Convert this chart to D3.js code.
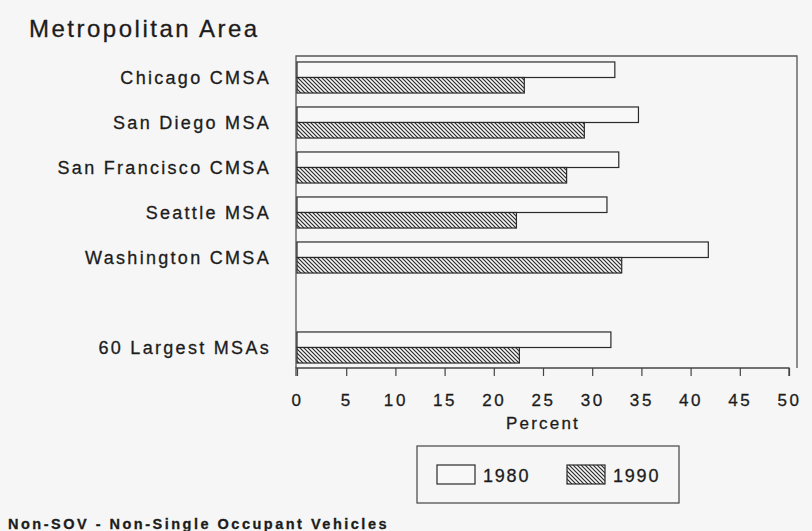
<!DOCTYPE html>
<html>
<head>
<meta charset="utf-8">
<script src="https://cdn.jsdelivr.net/npm/d3@7"></script>
<style>
  html, body { margin: 0; padding: 0; background: #f6f6f6; }
  svg { display: block; }
  text { font-family: "Liberation Sans", Arial, Helvetica, sans-serif; fill: #1c1c1c; stroke: #1c1c1c; stroke-width: 0.3px; }
</style>
</head>
<body>
<svg id="chart" width="812" height="531"></svg>
<script>
// ---- data ----
const categories = ["Chicago CMSA", "San Diego MSA", "San Francisco CMSA", "Seattle MSA", "Washington CMSA", "60 Largest MSAs"];
const values1980 = [32.3, 34.7, 32.7, 31.5, 41.8, 31.9];
const values1990 = [23.1, 29.2, 27.4, 22.3, 33.0, 22.6];
const seriesNames = ["1980", "1990"];
const xTicks = [0, 5, 10, 15, 20, 25, 30, 35, 40, 45, 50];
const titleText = "Metropolitan Area";
const xTitle = "Percent";
const footnote = "Non-SOV - Non-Single Occupant Vehicles";

// ---- layout ----
const svg = d3.select("#chart");
const W = 812, H = 531;
const plot = { left: 297, right: 789, top: 56, bottom: 368, frameRight: 797 };
const ink = "#2a2a2a";

svg.append("rect").attr("width", W).attr("height", H).attr("fill", "#f6f6f6");

// hatch pattern
const defs = svg.append("defs");
const pat = defs.append("pattern")
  .attr("id", "hatch").attr("patternUnits", "userSpaceOnUse")
  .attr("width", 4).attr("height", 4);
pat.append("rect").attr("width", 4).attr("height", 4).attr("fill", "#f6f6f6");
pat.append("path").attr("d", "M-1,-1 L5,5 M-1,3 L1,5 M3,-1 L5,1")
  .attr("stroke", "#2a2a2a").attr("stroke-width", 1.2);

// slots: insert a blank gap before the last category
const slots = categories.slice(0, 5).concat(["__gap__"], categories.slice(5));
const y = d3.scaleBand().domain(slots).range([55, 370]).paddingInner(0.31).paddingOuter(0.155);
const x = d3.scaleLinear().domain([0, 50]).range([plot.left, plot.right]);

// frame
svg.append("path")
  .attr("d", `M${plot.left - 1},${plot.bottom} L${plot.left - 1},${plot.top} L${plot.frameRight},${plot.top} L${plot.frameRight},${plot.bottom}`)
  .attr("fill", "none").attr("stroke", "#555").attr("stroke-width", 1.3);

// bars
const rows = categories.map((c, i) => ({ cat: c, v: [values1980[i], values1990[i]] }));
const sub = d3.scaleBand().domain(seriesNames).range([0, y.bandwidth()]);
const g = svg.append("g");
rows.forEach(r => {
  seriesNames.forEach((s, j) => {
    g.append("rect")
      .attr("x", x(0))
      .attr("y", y(r.cat) + sub(s))
      .attr("width", x(r.v[j]) - x(0))
      .attr("height", sub.bandwidth())
      .attr("fill", j === 0 ? "#f8f8f8" : "url(#hatch)")
      .attr("stroke", ink).attr("stroke-width", 1.2);
  });
});

// y labels
svg.append("g").selectAll("text").data(categories).join("text")
  .attr("x", 271)
  .attr("y", d => y(d) + y.bandwidth() / 2)
  .attr("dy", "0.36em")
  .attr("text-anchor", "end")
  .style("font-size", "18px").style("letter-spacing", "2.3px")
  .text(d => d);

// x axis
const xAxis = d3.axisBottom(x).tickValues(xTicks).tickSize(8).tickPadding(18).tickFormat(d3.format("d"));
const ax = svg.append("g").attr("transform", `translate(0,${plot.bottom})`).call(xAxis);
ax.select(".domain").attr("stroke", "#444").attr("stroke-width", 1.3).attr("d", `M${x(0) - 1},8V0H${x(50)}V8`);
ax.selectAll(".tick line").attr("stroke", "#444").attr("stroke-width", 1.2);
ax.selectAll(".tick text")
  .style("font-size", "17px").style("letter-spacing", "2.6px")
  .attr("fill", "#1c1c1c").attr("font-family", null);

svg.append("text").attr("x", 543).attr("y", 429).attr("text-anchor", "middle")
  .style("font-size", "17px").style("letter-spacing", "2.2px").text(xTitle);

// title
svg.append("text").attr("x", 29).attr("y", 37)
  .style("font-size", "24px").style("letter-spacing", "2.5px").text(titleText);

// legend
const lg = svg.append("g");
lg.append("rect").attr("x", 417).attr("y", 446).attr("width", 262).attr("height", 57)
  .attr("fill", "none").attr("stroke", "#444").attr("stroke-width", 1.2);
const legX = [437, 567];
seriesNames.forEach((s, j) => {
  lg.append("rect").attr("x", legX[j]).attr("y", 465).attr("width", 38).attr("height", 19)
    .attr("fill", j === 0 ? "#f8f8f8" : "url(#hatch)").attr("stroke", ink).attr("stroke-width", 1.2);
  lg.append("text").attr("x", legX[j] + 46).attr("y", 482)
    .style("font-size", "18px").style("letter-spacing", "1.8px").text(s);
});

// footnote
svg.append("text").attr("x", 8).attr("y", 529)
  .style("font-size", "14.5px").style("font-weight", "bold").style("letter-spacing", "2.5px")
  .text(footnote);
</script>
</body>
</html>
